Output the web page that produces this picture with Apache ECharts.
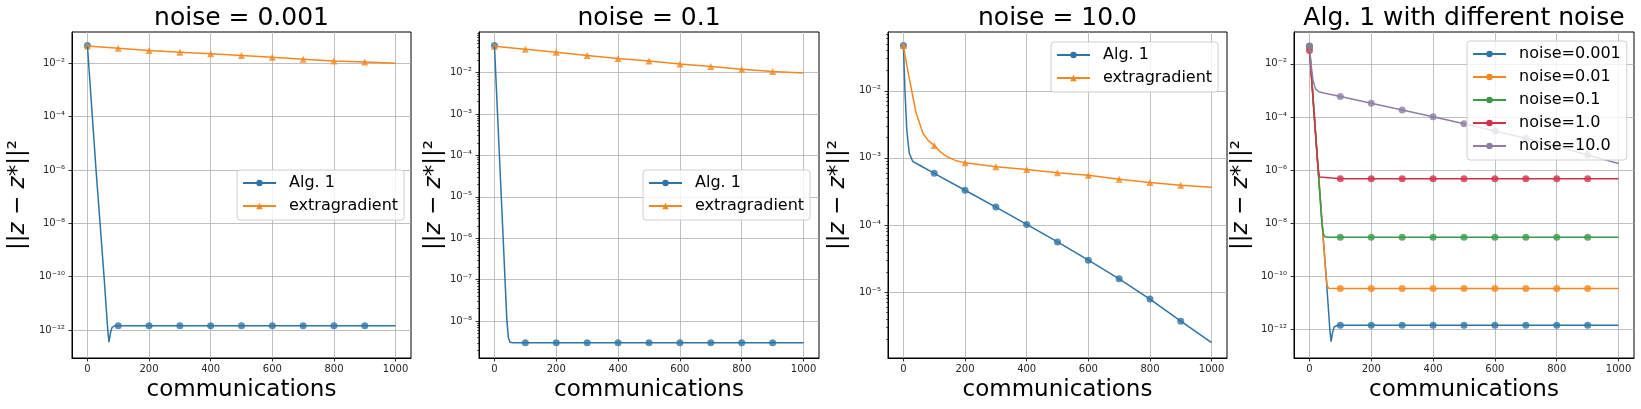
<!DOCTYPE html>
<html>
<head>
<meta charset="utf-8">
<title>noise comparison</title>
<script src="https://cdn.jsdelivr.net/npm/echarts@6/dist/echarts.min.js"></script>
<style>
  html, body { margin: 0; padding: 0; background: #fff; }
  #chart { width: 1641px; height: 409px; }
</style>
</head>
<body>
<div id="chart"></div>
<script>
// ---- data (y values are ||z - z*||^2) ----
const xTicks = [0, 200, 400, 600, 800, 1000];
const commsMarked = [0, 100, 200, 300, 400, 500, 600, 700, 800, 900, 1000];

// noise = 0.001
const alg1Comms0001 = [0, 4, 16, 28, 41, 54, 66, 70, 75, 80, 90, 100, 200, 300, 400, 500, 600, 700, 800, 900, 1000];
const alg1Err0001 = [0.046, 0.01, 1e-4, 1e-6, 1e-8, 1e-10, 1e-12, 3.5e-13, 8e-13, 1.25e-12, 1.45e-12,
  1.45e-12, 1.45e-12, 1.45e-12, 1.45e-12, 1.45e-12, 1.45e-12, 1.45e-12, 1.45e-12, 1.45e-12, 1.45e-12];
const extraErr0001 = [0.044, 0.036, 0.030, 0.026, 0.0225, 0.0195, 0.0166, 0.0142, 0.012, 0.011, 0.010];

// noise = 0.01 (only in the last panel)
const alg1Comms001 = [0, 10, 20, 30, 40, 50, 57, 62, 100, 200, 300, 400, 500, 600, 700, 800, 900, 1000];
const alg1Err001 = [0.045, 1e-3, 2.5e-5, 6e-7, 1.4e-8, 3.5e-10, 4.5e-11, 3.6e-11,
  3.5e-11, 3.5e-11, 3.5e-11, 3.5e-11, 3.5e-11, 3.5e-11, 3.5e-11, 3.5e-11, 3.5e-11, 3.5e-11];

// noise = 0.1
const alg1Comms01 = [0, 10, 20, 30, 40, 45, 50, 60, 100, 200, 300, 400, 500, 600, 700, 800, 900, 1000];
const alg1Err01 = [0.045, 1e-3, 2.2e-5, 5e-7, 1.1e-8, 4e-9, 3.1e-9, 3.0e-9,
  3.0e-9, 3.0e-9, 3.0e-9, 3.0e-9, 3.0e-9, 3.0e-9, 3.0e-9, 3.0e-9, 3.0e-9, 3.0e-9];
const extraErr01 = [0.043, 0.0367, 0.031, 0.0257, 0.0219, 0.019, 0.0162, 0.014, 0.012, 0.0107, 0.0098];

// noise = 1.0 (only in the last panel)
const alg1Comms1 = [0, 10, 20, 28, 33, 38, 100, 200, 300, 400, 500, 600, 700, 800, 900, 1000];
const alg1Err1 = [0.032, 8e-4, 2e-5, 1.2e-6, 5.5e-7, 4.9e-7,
  4.8e-7, 4.8e-7, 4.8e-7, 4.8e-7, 4.8e-7, 4.8e-7, 4.8e-7, 4.8e-7, 4.8e-7, 4.8e-7];

// noise = 10.0
const alg1Comms10 = [0, 5, 11, 19, 30, 50, 100, 200, 300, 400, 500, 600, 700, 800, 900, 1000];
const alg1Err10 = [0.047, 0.01, 2.6e-3, 1.17e-3, 8.9e-4, 7.9e-4, 5.9e-4, 3.3e-4, 1.85e-4, 1.02e-4,
  5.6e-5, 3.0e-5, 1.58e-5, 7.9e-6, 3.7e-6, 1.78e-6];
const extraComms10 = [0, 9, 20, 27, 41, 63, 80, 100, 120, 140, 170, 200, 300, 400, 500, 600, 700, 800, 900, 1000];
const extraErr10 = [0.047, 0.027, 0.0145, 0.010, 4.7e-3, 2.35e-3, 1.82e-3, 1.53e-3, 1.23e-3, 1.05e-3,
  9.1e-4, 8.5e-4, 7.4e-4, 6.7e-4, 6.0e-4, 5.5e-4, 4.8e-4, 4.3e-4, 3.9e-4, 3.65e-4];

// y tick exponents per panel
const yTickExp1 = [-12, -10, -8, -6, -4, -2];
const yTickExp2 = [-8, -7, -6, -5, -4, -3, -2];
const yTickExp3 = [-5, -4, -3, -2];
const yTickExp4 = [-12, -10, -8, -6, -4, -2];

const titles = ['noise = 0.001', 'noise = 0.1', 'noise = 10.0', 'Alg. 1 with different noise'];

// ---- styling ----
const FONT = 'DejaVu Sans';
const C_BLUE = '#2f74a6';
const C_ORANGE = '#f7871d';
const C_GREEN = '#3a9a48';
const C_RED = '#d3304a';
const C_PURPLE = '#8d7fa3';

const panels = [
  { left: 72, width: 339, yMin: -13.05, yMax: -0.83, ticks: yTickExp1, minor: false, nameX: 18, legend: [237, 170] },
  { left: 479, width: 340, yMin: -8.89, yMax: -1.02, ticks: yTickExp2, minor: true, nameX: 434, legend: [643, 170] },
  { left: 888, width: 339, yMin: -5.98, yMax: -1.125, ticks: yTickExp3, minor: true, nameX: 838, legend: [1051, 42] },
  { left: 1294, width: 340, yMin: -13.07, yMax: -0.80, ticks: yTickExp4, minor: false, nameX: 1241, legend: [1467, 41] }
];
const TOP = 32, HEIGHT = 326;

const SUP = { '0': '⁰', '1': '¹', '2': '²', '3': '³', '4': '⁴', '5': '⁵', '6': '⁶', '7': '⁷', '8': '⁸', '9': '⁹', '-': '⁻' };
function pow10Label(v) {
  return '10' + String(Math.round(v)).split('').map(ch => SUP[ch]).join('');
}

// minor ticks at k * 10^n for decades inside the range
function minorTicks(lo, hi) {
  const out = [];
  for (let n = Math.floor(lo); n <= Math.ceil(hi); n++) {
    for (let k = 2; k <= 9; k++) {
      const v = n + Math.log10(k);
      if (v > lo && v < hi) out.push(v);
    }
  }
  return out;
}

// one curve = a line through every point + markers every 100 communications
function curve(gi, name, comms, errs, color, symbol) {
  const pts = comms.map((c, i) => [c, Math.log10(errs[i])]);
  return [
    {
      type: 'line', name: name, xAxisIndex: gi, yAxisIndex: gi * 2,
      data: pts, showSymbol: false, symbol: symbol, symbolSize: 7,
      lineStyle: { width: 1.5, color: color }, itemStyle: { color: color },
      silent: true
    },
    {
      type: 'scatter', name: name + ' markers', xAxisIndex: gi, yAxisIndex: gi * 2,
      data: pts.filter(p => p[0] % 100 === 0 && p[0] < 1000),
      symbol: symbol, symbolSize: 7, itemStyle: { color: color }, silent: true
    }
  ];
}

const grid = panels.map(p => ({
  left: p.left, top: TOP, width: p.width, height: HEIGHT,
  show: true, backgroundColor: '#fff', borderColor: '#000', borderWidth: 1,
  containLabel: false, outerBoundsMode: 'none'
}));

const xAxis = panels.map((p, i) => ({
  type: 'value', gridIndex: i, min: -50, max: 1050, position: 'bottom',
  name: 'communications', nameLocation: 'middle', nameGap: 19,
  nameTextStyle: { fontSize: 23, fontFamily: FONT, color: '#000', verticalAlign: 'top' },
  axisLine: { onZero: false, lineStyle: { color: '#000', width: 1 } },
  axisTick: { customValues: xTicks, length: 3.5, lineStyle: { color: '#000', width: 0.8 } },
  axisLabel: { customValues: xTicks, formatter: v => String(v), fontSize: 10, fontFamily: FONT, color: '#262626', margin: 6 },
  splitLine: { show: true, lineStyle: { color: '#b0b0b0', width: 0.8 } }
}));

const yAxis = [];
panels.forEach((p, i) => {
  yAxis.push({
    type: 'value', gridIndex: i, min: p.yMin, max: p.yMax, position: 'left',
    axisLine: { onZero: false, lineStyle: { color: '#000', width: 1 } },
    axisTick: { customValues: p.ticks, length: 3.5, lineStyle: { color: '#000', width: 0.8 } },
    axisLabel: { customValues: p.ticks, formatter: pow10Label, fontSize: 10, fontFamily: FONT, color: '#262626', margin: 7 },
    splitLine: { show: true, lineStyle: { color: '#b0b0b0', width: 0.8 } }
  });
  // minor log ticks, on the same left spine
  yAxis.push({
    type: 'value', gridIndex: i, min: p.yMin, max: p.yMax, position: 'left', offset: 0,
    axisLine: { show: false, onZero: false },
    axisTick: p.minor
      ? { show: true, customValues: minorTicks(p.yMin, p.yMax), length: 2, lineStyle: { color: '#000', width: 0.6 } }
      : { show: false },
    axisLabel: { show: false },
    splitLine: { show: false }
  });
});

// y axis titles, rotated, centred on each plot
const yNameRich = {
  a: { fontSize: 23, fontFamily: FONT, fill: '#000' },
  i: { fontSize: 23, fontFamily: FONT, fill: '#000', fontStyle: 'italic' }
};
const graphic = panels.map(p => ({
  type: 'text', x: p.nameX, y: TOP + HEIGHT / 2, rotation: Math.PI / 2, silent: true,
  style: {
    text: '{a|||}{i|z}{a| − }{i|z}{a|*||²}',
    rich: yNameRich, align: 'center', verticalAlign: 'middle',
    fontSize: 23, fontFamily: FONT, fill: '#000'
  }
}));

const series = [].concat(
  curve(0, 'Alg. 1', alg1Comms0001, alg1Err0001, C_BLUE, 'circle'),
  curve(0, 'extragradient', commsMarked, extraErr0001, C_ORANGE, 'triangle'),
  curve(1, 'Alg. 1', alg1Comms01, alg1Err01, C_BLUE, 'circle'),
  curve(1, 'extragradient', commsMarked, extraErr01, C_ORANGE, 'triangle'),
  curve(2, 'Alg. 1', alg1Comms10, alg1Err10, C_BLUE, 'circle'),
  curve(2, 'extragradient', extraComms10, extraErr10, C_ORANGE, 'triangle'),
  curve(3, 'noise=0.001', alg1Comms0001, alg1Err0001, C_BLUE, 'circle'),
  curve(3, 'noise=0.01', alg1Comms001, alg1Err001, C_ORANGE, 'circle'),
  curve(3, 'noise=0.1', alg1Comms01, alg1Err01, C_GREEN, 'circle'),
  curve(3, 'noise=1.0', alg1Comms1, alg1Err1, C_RED, 'circle'),
  curve(3, 'noise=10.0', alg1Comms10, alg1Err10, C_PURPLE, 'circle')
);

const legendNames = [
  ['Alg. 1', 'extragradient'],
  ['Alg. 1', 'extragradient'],
  ['Alg. 1', 'extragradient'],
  ['noise=0.001', 'noise=0.01', 'noise=0.1', 'noise=1.0', 'noise=10.0']
];

const legend = panels.map((p, i) => ({
  data: legendNames[i], orient: 'vertical', left: p.legend[0], top: p.legend[1],
  itemWidth: 33, itemHeight: 8, itemGap: 7, padding: [5, 6, 6, 5],
  backgroundColor: 'rgba(255,255,255,0.8)', borderColor: '#d0d0d0', borderWidth: 1, borderRadius: 3,
  selectedMode: false,
  textStyle: { fontSize: 16, fontFamily: FONT, color: '#000', padding: [0, 0, 0, 8] }
}));

const title = panels.map((p, i) => ({
  text: titles[i], left: p.left + p.width / 2, top: 6, textAlign: 'center', padding: 0,
  textStyle: { fontSize: 25, fontWeight: 'normal', fontFamily: FONT, color: '#000' }
}));

const chart = echarts.init(document.getElementById('chart'), null, { renderer: 'canvas' });
chart.setOption({
  backgroundColor: '#fff',
  animation: false,
  title: title,
  legend: legend,
  grid: grid,
  xAxis: xAxis,
  yAxis: yAxis,
  graphic: graphic,
  series: series
});
</script>
</body>
</html>
